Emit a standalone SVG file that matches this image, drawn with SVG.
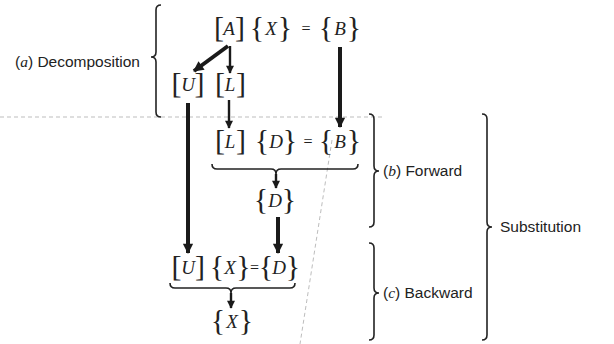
<svg xmlns="http://www.w3.org/2000/svg" width="614" height="344" viewBox="0 0 614 344">
<style>
.lbl{font-family:"Liberation Sans",Arial,sans-serif;font-size:15.5px;fill:#222}
.it{font-family:"Liberation Serif","Times New Roman",serif;font-style:italic}
.m{font-family:"Liberation Serif","Times New Roman",serif;fill:#222;text-anchor:middle}
.b{font-size:30px;font-style:normal}
.v{font-size:19px;font-style:italic}
.e{font-size:16px;font-style:normal}
.brace{fill:none;stroke:#222;stroke-width:1.6}
.thick{stroke:#1a1a1a;stroke-width:4;fill:none}
.thin{stroke:#1a1a1a;stroke-width:2.4;fill:none}
.art{stroke:#bdbdbd;stroke-width:1;stroke-dasharray:4 3;fill:none}
</style>
<defs>
<marker id="ah" viewBox="0 0 10 10" refX="9" refY="5" markerWidth="3" markerHeight="2.6" orient="auto" markerUnits="strokeWidth">
<path d="M0,0 L10,5 L0,10 z" fill="#1a1a1a"/>
</marker>
<marker id="ah2" viewBox="0 0 10 10" refX="9" refY="5" markerWidth="3.8" markerHeight="3.4" orient="auto" markerUnits="strokeWidth">
<path d="M0,0 L10,5 L0,10 z" fill="#1a1a1a"/>
</marker>
</defs>
<rect width="614" height="344" fill="#ffffff"/>
<g id="artifacts">
<line class="art" x1="0" y1="117" x2="385" y2="117"/>
<line class="art" x1="332" y1="140" x2="300" y2="344"/>
</g>
<g id="connectors">
<line class="thick" x1="228" y1="46" x2="194" y2="71" marker-end="url(#ah)"/>
<line class="thin" x1="230" y1="46" x2="230" y2="73" marker-end="url(#ah2)"/>
<line class="thick" x1="340" y1="47" x2="340" y2="127" marker-end="url(#ah)"/>
<line class="thick" x1="188" y1="103" x2="188" y2="253" marker-end="url(#ah)"/>
<line class="thin" x1="229" y1="100" x2="229" y2="128" marker-end="url(#ah2)"/>
<line class="thin" x1="276" y1="174" x2="276" y2="188" marker-end="url(#ah2)"/>
<line class="thick" x1="278" y1="217" x2="278" y2="253" marker-end="url(#ah)"/>
<line class="thin" x1="231" y1="293" x2="231" y2="308" marker-end="url(#ah2)"/>
</g>
<g id="row1">
<text class="m"><tspan class="b" x="219" y="36.5">[</tspan><tspan class="v" x="229" y="35">A</tspan><tspan class="b" x="240" y="36.5">]</tspan></text>
<text class="m"><tspan class="b" x="257" y="36.5">{</tspan><tspan class="v" x="271" y="35">X</tspan><tspan class="b" x="285" y="36.5">}</tspan></text>
<text class="m e" x="306" y="34">=</text>
<text class="m"><tspan class="b" x="326" y="36.5">{</tspan><tspan class="v" x="340" y="35">B</tspan><tspan class="b" x="354" y="36.5">}</tspan></text>
</g>
<g id="row2">
<text class="m"><tspan class="b" x="176.5" y="92.5">[</tspan><tspan class="v" x="188" y="91">U</tspan><tspan class="b" x="199.5" y="92.5">]</tspan></text>
<text class="m"><tspan class="b" x="220" y="92.5">[</tspan><tspan class="v" x="230" y="91">L</tspan><tspan class="b" x="241" y="92.5">]</tspan></text>
</g>
<g id="row3">
<text class="m"><tspan class="b" x="220" y="149.5">[</tspan><tspan class="v" x="230" y="148">L</tspan><tspan class="b" x="241" y="149.5">]</tspan></text>
<text class="m"><tspan class="b" x="262" y="149.5">{</tspan><tspan class="v" x="276" y="148">D</tspan><tspan class="b" x="290" y="149.5">}</tspan></text>
<text class="m e" x="308" y="147">=</text>
<text class="m"><tspan class="b" x="326" y="149.5">{</tspan><tspan class="v" x="340" y="148">B</tspan><tspan class="b" x="354" y="149.5">}</tspan></text>
</g>
<g id="row4">
<text class="m"><tspan class="b" x="261" y="208.5">{</tspan><tspan class="v" x="275" y="207">D</tspan><tspan class="b" x="289" y="208.5">}</tspan></text>
</g>
<g id="row5">
<text class="m"><tspan class="b" x="176.5" y="275.5">[</tspan><tspan class="v" x="188" y="274">U</tspan><tspan class="b" x="200" y="275.5">]</tspan></text>
<text class="m"><tspan class="b" x="217" y="275.5">{</tspan><tspan class="v" x="230" y="274">X</tspan><tspan class="b" x="243.5" y="275.5">}</tspan></text>
<text class="m e" x="254.5" y="273">=</text>
<text class="m"><tspan class="b" x="266" y="275.5">{</tspan><tspan class="v" x="279" y="274">D</tspan><tspan class="b" x="293" y="275.5">}</tspan></text>
</g>
<g id="row6">
<text class="m"><tspan class="b" x="218" y="329.5">{</tspan><tspan class="v" x="232" y="328">X</tspan><tspan class="b" x="246" y="329.5">}</tspan></text>
</g>
<g id="underbraces">
<path class="brace" d="M212,164 Q212,169 217,169 L271,169 Q276,169 276,174 Q276,169 281,169 L353,169 Q358,169 358,164"/>
<path class="brace" d="M170,283 Q170,288 175,288 L226,288 Q231,288 231,293 Q231,288 236,288 L290,288 Q295,288 295,283"/>
</g>
<g id="decomposition">
<path class="brace" d="M161,5 Q156,5 156,10 L156,52 Q156,57 151,57 Q156,57 156,62 L156,112 Q156,117 161,117"/>
<text class="lbl" x="15" y="67">(<tspan class="it">a</tspan>) Decomposition</text>
</g>
<g id="forward">
<path class="brace" d="M369,114 Q374,114 374,119 L374,166 Q374,171 379,171 Q374,171 374,176 L374,222 Q374,227 369,227"/>
<text class="lbl" x="383" y="176">(<tspan class="it">b</tspan>) Forward</text>
</g>
<g id="backward">
<path class="brace" d="M369,243 Q374,243 374,248 L374,288 Q374,293 379,293 Q374,293 374,298 L374,335 Q374,340 369,340"/>
<text class="lbl" x="383" y="298">(<tspan class="it">c</tspan>) Backward</text>
</g>
<g id="substitution">
<path class="brace" d="M482,114 Q487,114 487,119 L487,222 Q487,227 492,227 Q487,227 487,232 L487,335 Q487,340 482,340"/>
<text class="lbl" x="500" y="232">Substitution</text>
</g>
</svg>
